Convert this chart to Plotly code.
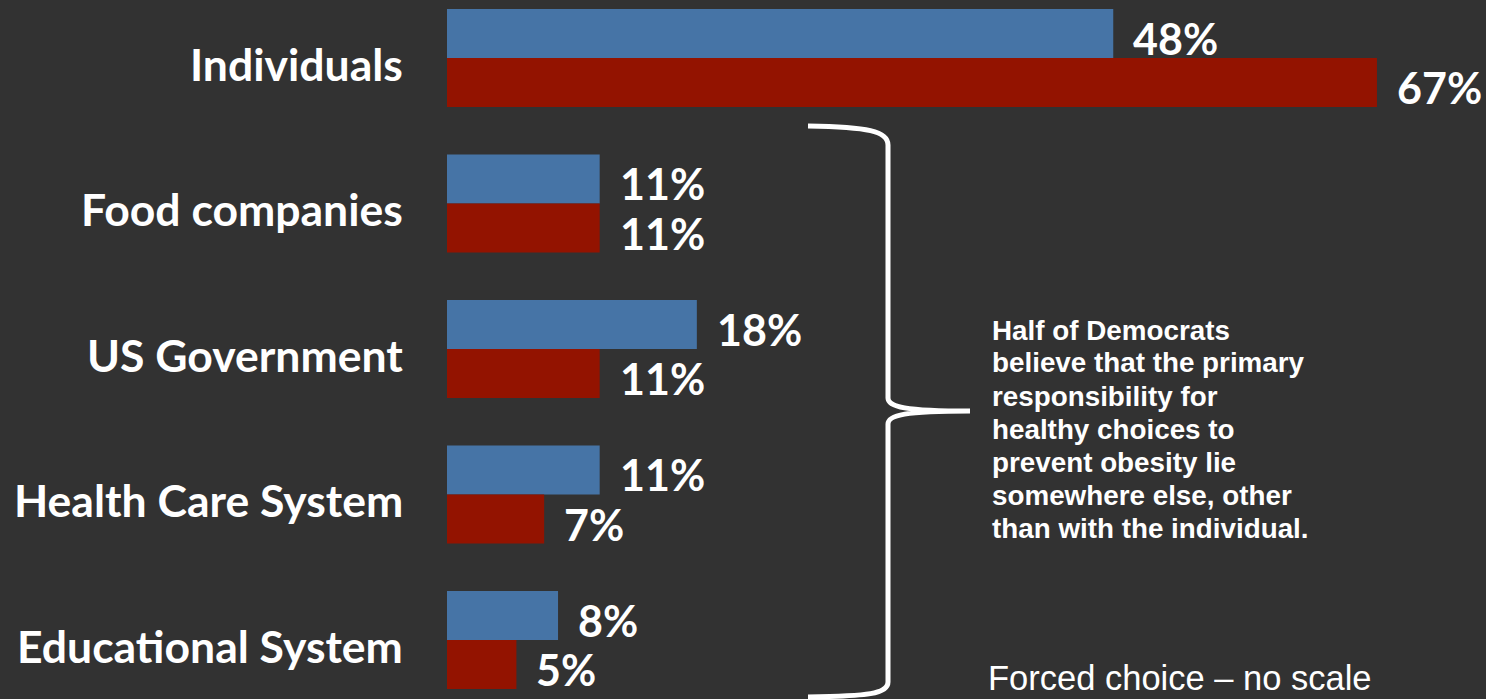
import plotly.graph_objects as go

# Who is primarily responsible for healthy choices to prevent obesity
categories = ["Individuals", "Food companies", "US Government",
              "Health Care System", "Educational System"]
blue_vals = [48, 11, 18, 11, 8]   # Democrats
red_vals = [67, 11, 11, 7, 5]     # Republicans

note_lines = [
    "Half of Democrats",
    "believe that the primary",
    "responsibility for",
    "healthy choices to",
    "prevent obesity lie",
    "somewhere else, other",
    "than with the individual.",
]
footnote = "Forced choice \u2013 no scale"

W, H = 1486, 699
LEFT = 447
BG = "#323232"
BLUE = "#4674A6"
RED = "#931300"
LABEL_FONT = "Lato"
NOTE_FONT = "Liberation Sans, Arial, sans-serif"

pos = list(range(len(categories)))
bar_w = 0.337


def px_x(px):
    return (px - LEFT) / (W - LEFT)


def px_y(py):
    return 1 - py / H


fig = go.Figure()
fig.add_bar(y=pos, x=blue_vals, orientation="h", width=bar_w, offset=-bar_w,
            marker=dict(color=BLUE, line_width=0), hoverinfo="x")
fig.add_bar(y=pos, x=red_vals, orientation="h", width=bar_w, offset=0,
            marker=dict(color=RED, line_width=0), hoverinfo="x")

annotations = []

# category labels to the left of the bars
for i, cat in enumerate(categories):
    annotations.append(dict(
        x=0, y=i, xref="paper", yref="y", text=cat, showarrow=False,
        xanchor="right", yanchor="middle", xshift=-42, yshift=-5,
        font=dict(family=LABEL_FONT, size=44.5, color="white", weight=700)))

# value labels at the end of each bar
for i, (b, r) in enumerate(zip(blue_vals, red_vals)):
    for val, yc in ((b, i - bar_w / 2), (r, i + bar_w / 2)):
        annotations.append(dict(
            x=val, y=yc, xref="x", yref="y", text=f"{val}%", showarrow=False,
            xanchor="left", yanchor="middle", xshift=18, yshift=-5,
            font=dict(family=LABEL_FONT, size=43, color="white", weight=700)))

# explanatory note, one annotation per line
for k, line in enumerate(note_lines):
    annotations.append(dict(
        x=px_x(990), y=px_y(330 + 33 * k), xref="paper", yref="paper",
        text=line, showarrow=False, xanchor="left", yanchor="middle",
        font=dict(family=NOTE_FONT, size=27.8, color="white", weight=700)))

annotations.append(dict(
    x=px_x(986), y=0, xref="paper", yref="paper", text=footnote,
    showarrow=False, xanchor="left", yanchor="bottom",
    font=dict(family=NOTE_FONT, size=34.5, color="white")))

# curly brace grouping the non-individual answers
pts = [
    ("M", [(808, 126)]),
    ("C", [(868, 127), (888, 131), (888, 145)]),
    ("L", [(888, 398)]),
    ("C", [(888, 407), (905, 411), (970, 411)]),
    ("C", [(905, 411), (888, 415), (888, 424)]),
    ("L", [(888, 682)]),
    ("C", [(888, 694), (868, 696), (808, 697)]),
]
path = " ".join(
    cmd + " " + " ".join(f"{px_x(x):.5f},{px_y(y):.5f}" for x, y in coords)
    for cmd, coords in pts)

fig.update_layout(
    width=W, height=H,
    margin=dict(l=LEFT, r=0, t=0, b=0),
    paper_bgcolor=BG, plot_bgcolor=BG,
    barmode="overlay", showlegend=False,
    xaxis=dict(range=[0, (W - LEFT) / 13.88], visible=False),
    yaxis=dict(range=[(H - 58) / 145.5, -58 / 145.5], visible=False),
    shapes=[dict(type="path", path=path, xref="paper", yref="paper",
                 line=dict(color="white", width=5), layer="above")],
    annotations=annotations,
)

fig.write_html("out.html")
